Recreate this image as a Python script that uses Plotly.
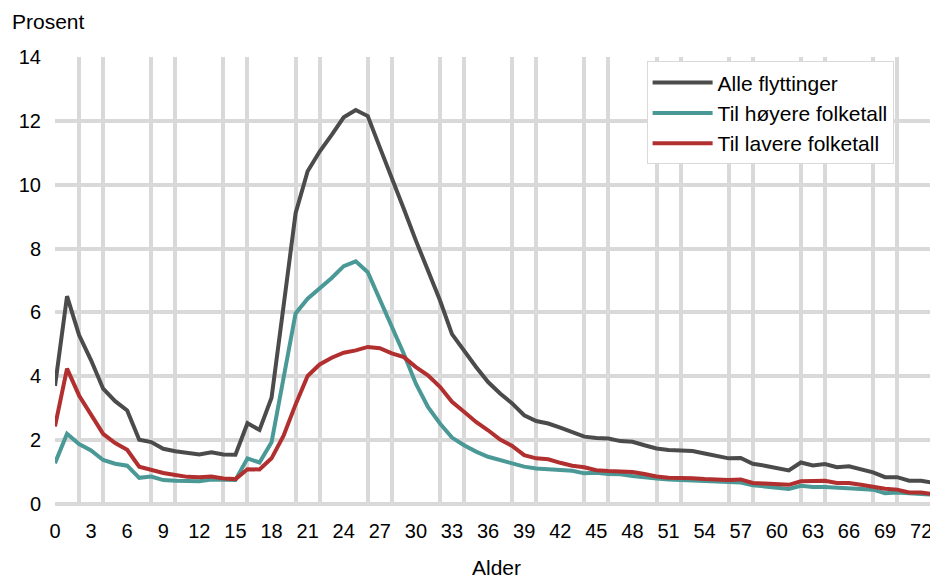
import plotly.graph_objects as go

ages = list(range(0, 75))

alle = [3.70, 6.51, 5.29, 4.50, 3.61, 3.22, 2.93, 2.01, 1.94, 1.73,
        1.65, 1.59, 1.55, 1.62, 1.55, 1.54, 2.53, 2.32, 3.33, 6.20,
        9.11, 10.42, 11.04, 11.56, 12.11, 12.34, 12.15, 11.17, 10.23, 9.24,
        8.25, 7.31, 6.38, 5.32, 4.78, 4.29, 3.82, 3.46, 3.15, 2.78,
        2.60, 2.52, 2.39, 2.24, 2.11, 2.07, 2.05, 1.97, 1.95, 1.84,
        1.74, 1.69, 1.69, 1.66, 1.58, 1.51, 1.43, 1.44, 1.26, 1.20,
        1.13, 1.05, 1.30, 1.21, 1.25, 1.15, 1.18, 1.09, 0.99, 0.84,
        0.84, 0.73, 0.73, 0.66, 0.63]

hoyere = [1.28, 2.20, 1.88, 1.68, 1.38, 1.26, 1.20, 0.82, 0.86, 0.75,
          0.73, 0.72, 0.71, 0.77, 0.76, 0.75, 1.43, 1.30, 1.93, 3.96,
          5.97, 6.43, 6.74, 7.08, 7.45, 7.60, 7.26, 6.40, 5.60, 4.70,
          3.77, 3.04, 2.52, 2.08, 1.84, 1.64, 1.48, 1.38, 1.27, 1.17,
          1.11, 1.08, 1.08, 1.04, 0.96, 0.98, 0.94, 0.93, 0.88, 0.83,
          0.80, 0.77, 0.75, 0.73, 0.70, 0.70, 0.68, 0.67, 0.59, 0.55,
          0.51, 0.47, 0.57, 0.53, 0.53, 0.50, 0.50, 0.47, 0.45, 0.34,
          0.36, 0.32, 0.31, 0.29, 0.28]

lavere = [2.43, 4.24, 3.40, 2.77, 2.20, 1.91, 1.70, 1.17, 1.07, 0.97,
          0.91, 0.85, 0.84, 0.86, 0.80, 0.78, 1.09, 1.08, 1.43, 2.14,
          3.12, 4.01, 4.37, 4.58, 4.74, 4.81, 4.92, 4.88, 4.72, 4.60,
          4.29, 4.03, 3.67, 3.20, 2.89, 2.57, 2.31, 2.02, 1.82, 1.53,
          1.43, 1.40, 1.29, 1.20, 1.15, 1.06, 1.03, 1.03, 1.00, 0.94,
          0.86, 0.82, 0.82, 0.81, 0.78, 0.75, 0.75, 0.77, 0.66, 0.64,
          0.63, 0.60, 0.71, 0.71, 0.73, 0.66, 0.66, 0.60, 0.53, 0.48,
          0.45, 0.36, 0.36, 0.31, 0.30]

series = [
    ("Alle flyttinger", alle, "#4b4b4b"),
    ("Til høyere folketall", hoyere, "#4a9996"),
    ("Til lavere folketall", lavere, "#b12f2f"),
]

FONT = "Liberation Sans, Arial, sans-serif"
GRID = "#d9d9d9"
OFF = 8  # default page body margin

fig = go.Figure()
for name, vals, col in series:
    fig.add_trace(go.Scatter(x=ages, y=vals, mode="lines", name=name,
                             line=dict(color=col, width=4)))

fig.update_layout(
    width=938 - OFF, height=578 - OFF,
    margin=dict(l=55 - OFF, r=0, t=57 - OFF, b=74),
    paper_bgcolor="white", plot_bgcolor="white",
    font=dict(family=FONT, size=20, color="#000000"),
    showlegend=True,
    legend=dict(x=0.67, y=0.99, xanchor="left", yanchor="top",
                bgcolor="white", bordercolor=GRID, borderwidth=1,
                font=dict(family=FONT, size=21, color="#000000"),
                tracegroupgap=0, itemwidth=60),
    xaxis=dict(range=[0, 73.4], tickmode="linear", tick0=0, dtick=3,
               showgrid=False, zeroline=False, showline=False,
               ticks="", ticklabelstandoff=13,
               tickfont=dict(family=FONT, size=20, color="#000000"),
               minor=dict(tickmode="linear", tick0=0, dtick=2, showgrid=True,
                          gridcolor=GRID, gridwidth=3.5, ticks="")),
    yaxis=dict(range=[0, 14], tickmode="linear", tick0=0, dtick=2,
               showgrid=True, gridcolor=GRID, gridwidth=3.5,
               zeroline=True, zerolinecolor=GRID, zerolinewidth=3.5,
               showline=False, ticks="", ticklabelstandoff=13,
               tickfont=dict(family=FONT, size=20, color="#000000")),
    annotations=[
        dict(text="Prosent", xref="paper", yref="paper",
             x=(10 - 55) / 883, y=(504 - 22) / 447,
             xanchor="left", yanchor="middle", showarrow=False,
             font=dict(family=FONT, size=21, color="#000000")),
        dict(text="Alder", xref="paper", yref="paper",
             x=0.5, y=(504 - 567) / 447,
             xanchor="center", yanchor="middle", showarrow=False,
             font=dict(family=FONT, size=21, color="#000000")),
    ],
)

fig.write_html("out.html")
